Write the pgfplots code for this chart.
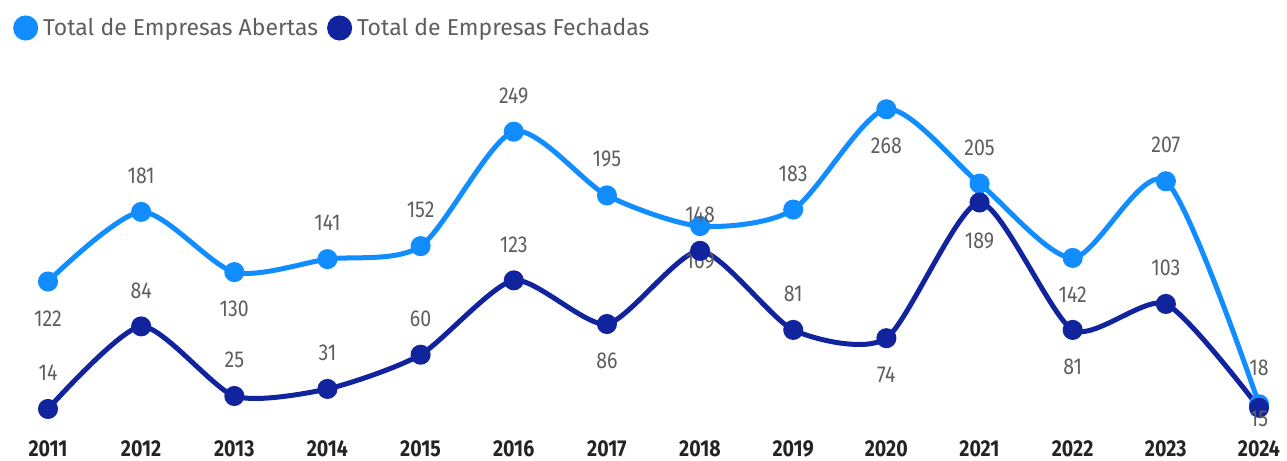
\documentclass[border=0pt]{standalone}
\usepackage{fontspec}
\setmainfont{Fira Sans}[FakeStretch=0.85]
\newfontfamily\legfont{Fira Sans}
\usepackage{pgfplots}
\pgfplotsset{compat=1.18}
\usepackage{pgfplotstable}
\definecolor{cA}{HTML}{118DFF}
\definecolor{cF}{HTML}{12239E}
\definecolor{lbl}{HTML}{605E5C}
\definecolor{tk}{HTML}{252423}
\newcommand\lblfont{\fontsize{23}{27}\selectfont}
\pgfplotstableread{
x y off
2011 122 -37
2012 181 36
2013 130 -37
2014 141 36
2015 152 36
2016 249 36
2017 195 36
2018 169 -35
2019 183 36
2020 268 -37
2021 205 36
2022 142 -37
2023 207 36
2024 18 36
}\abertas
\pgfplotstableread{
x y off
2011 14 36
2012 84 36
2013 25 36
2014 31 36
2015 60 36
2016 123 36
2017 86 -37
2018 148 36
2019 81 36
2020 74 -37
2021 189 -38
2022 81 -37
2023 103 36
2024 15 -11
}\fechadas
\begin{document}
\begin{tikzpicture}
\begin{axis}[name=ax, scale only axis, width=1211pt, height=354pt,
  xmin=2011, xmax=2024, ymin=0, ymax=300, clip=false,
  axis x line*=bottom, hide y axis, axis line style={draw=none},
  xtick={2011,...,2024}, major tick length=0pt,
  /pgf/number format/assume math mode=true,
  xticklabel style={/pgf/number format/1000 sep={}, anchor=base, yshift=-30.5pt, font=\lblfont\bfseries, text=tk},
  legend style={at={(axis description cs:0,1)}, anchor=west, xshift=-35pt, yshift=43.5pt, draw=none, fill=none, inner sep=0pt,
    font=\legfont\fontsize{23}{27}\selectfont, text=lbl, nodes={inner sep=0pt},
    /tikz/every odd column/.append style={column sep=5pt},
    /tikz/every even column/.append style={column sep=9pt}},
  legend columns=2, legend cell align=left,
  legend image code/.code={\fill[#1] (10pt,0pt) circle (10pt);},
  every node near coord/.append style={anchor=center, yshift=\myoff pt, text=lbl, font=\lblfont},
]
\addplot[cA, line width=5pt, smooth, tension=0.45, mark=*, mark size=7.5pt, mark options={fill=cA, draw=none},
  nodes near coords, visualization depends on={\thisrow{off}\as\myoff}]
  table[x=x,y=y]{\abertas};
\addlegendentry{Total de Empresas Abertas}
\addplot[cF, line width=5pt, smooth, tension=0.4, mark=*, mark size=7.5pt, mark options={fill=cF, draw=none},
  nodes near coords, visualization depends on={\thisrow{off}\as\myoff}]
  table[x=x,y=y]{\fechadas};
\addlegendentry{Total de Empresas Fechadas}
\end{axis}
\pgfresetboundingbox
\path[use as bounding box] ([xshift=-48pt,yshift=-34.5pt]ax.south west) rectangle ([xshift=28pt,yshift=71.5pt]ax.north east);
\end{tikzpicture}
\end{document}
